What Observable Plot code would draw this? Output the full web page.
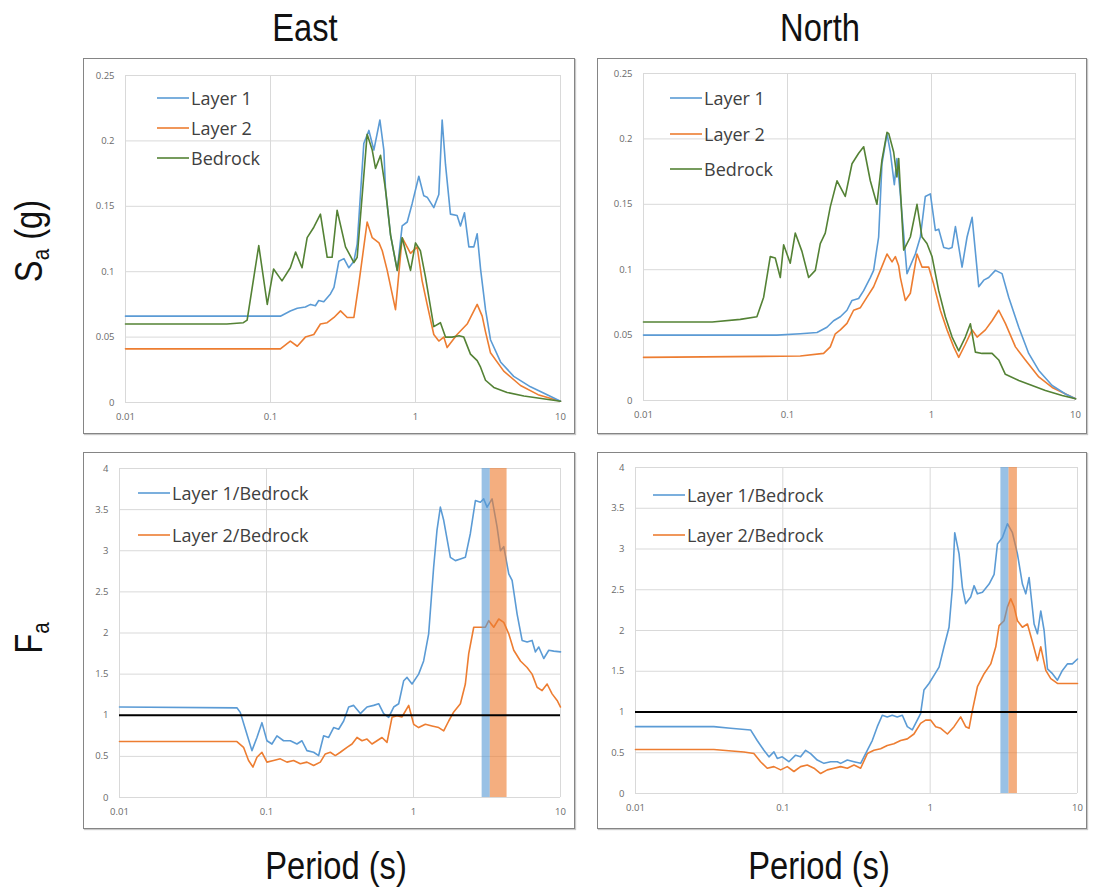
<!DOCTYPE html>
<html><head><meta charset="utf-8">
<script src="https://cdn.jsdelivr.net/npm/d3@7"></script>
<script src="https://cdn.jsdelivr.net/npm/@observablehq/plot@0.6"></script>
<style>
body{margin:0;background:#fff;width:1096px;height:888px;position:relative;overflow:hidden;font-family:"Open Sans",sans-serif}
.box{position:absolute;box-sizing:border-box;border:1.5px solid #858585;box-shadow:1px 1px 1px #c8c8c8;pointer-events:none}
.big{position:absolute;font-family:"Liberation Sans Narrow","Arial Narrow","Liberation Sans",sans-serif;font-size:38px;color:#111;white-space:nowrap;transform:translate(-50%,-50%) scaleX(0.86);line-height:1}
.big sub{font-size:24px;vertical-align:-7px}
.rot{transform:translate(-50%,-50%) rotate(-90deg) scaleX(0.86)}
.leg{position:absolute;display:flex;align-items:center;height:24px;font-family:"Open Sans",sans-serif;font-size:18px;color:#404040;white-space:nowrap}
.leg svg{display:block;margin-right:2px}
</style></head><body>
<script>
// ---- shared ticks ----
const periodTicks = [0.01, 0.1, 1, 10];
const saTicks = [0, 0.05, 0.1, 0.15, 0.2, 0.25];
const faTicks = [0, 0.5, 1, 1.5, 2, 2.5, 3, 3.5, 4];
const referenceLevel = [1];
const colLayer1 = "#5b9bd5", colLayer2 = "#ed7d31", colBedrock = "#548235";

// ---- East Sa (g): [period s, Sa] ----
const eastSaLayer1 = [[0.01,0.066],[0.117,0.066],[0.137,0.070],[0.153,0.072],[0.174,0.073],[0.189,0.075],[0.204,0.074],[0.215,0.078],[0.233,0.077],[0.259,0.083],[0.274,0.088],[0.296,0.108],[0.321,0.110],[0.347,0.103],[0.376,0.108],[0.396,0.121],[0.440,0.198],[0.477,0.208],[0.516,0.193],[0.568,0.216],[0.605,0.193],[0.621,0.163],[0.673,0.128],[0.748,0.101],[0.809,0.135],[0.877,0.138],[0.948,0.152],[1.054,0.173],[1.141,0.158],[1.203,0.157],[1.337,0.149],[1.448,0.159],[1.527,0.216],[1.610,0.182],[1.742,0.144],[1.936,0.143],[2.042,0.135],[2.177,0.145],[2.333,0.119],[2.525,0.119],[2.663,0.129],[2.81,0.102],[3.04,0.071],[3.29,0.048],[3.86,0.031],[4.76,0.020],[6.21,0.012],[8.09,0.006],[10,0.001]];
const eastSaLayer2 = [[0.01,0.041],[0.117,0.041],[0.120,0.042],[0.137,0.047],[0.153,0.043],[0.174,0.050],[0.199,0.052],[0.221,0.060],[0.246,0.061],[0.274,0.065],[0.304,0.070],[0.338,0.065],[0.376,0.065],[0.407,0.091],[0.464,0.138],[0.503,0.126],[0.56,0.122],[0.59,0.116],[0.638,0.101],[0.728,0.071],[0.809,0.126],[0.924,0.114],[1.026,0.119],[1.111,0.093],[1.203,0.075],[1.337,0.052],[1.448,0.047],[1.567,0.050],[1.652,0.042],[1.936,0.052],[2.271,0.060],[2.663,0.075],[2.884,0.066],[3.04,0.054],[3.29,0.038],[4.06,0.024],[5.3,0.013],[7.0,0.006],[10,0.001]];
const eastSaBedrock = [[0.01,0.060],[0.05,0.060],[0.065,0.061],[0.069,0.063],[0.083,0.120],[0.095,0.075],[0.105,0.102],[0.120,0.093],[0.137,0.103],[0.149,0.115],[0.165,0.103],[0.179,0.126],[0.199,0.134],[0.221,0.144],[0.246,0.111],[0.266,0.111],[0.288,0.147],[0.329,0.119],[0.376,0.107],[0.396,0.111],[0.464,0.205],[0.503,0.193],[0.530,0.179],[0.574,0.189],[0.621,0.163],[0.673,0.128],[0.748,0.101],[0.809,0.126],[0.924,0.101],[1.0,0.122],[1.081,0.116],[1.171,0.096],[1.337,0.058],[1.486,0.061],[1.61,0.050],[1.789,0.050],[2.0,0.051],[2.153,0.050],[2.394,0.037],[2.663,0.032],[2.81,0.027],[3.04,0.017],[3.467,0.0115],[4.285,0.0077],[5.59,0.005],[10,0.001]];

// ---- North Sa (g) ----
const northSaLayer1 = [[0.01,0.050],[0.0845,0.050],[0.1227,0.051],[0.1603,0.052],[0.1879,0.056],[0.2089,0.061],[0.2328,0.064],[0.2588,0.069],[0.2805,0.0765],[0.3119,0.078],[0.338,0.084],[0.3759,0.094],[0.3963,0.0995],[0.4295,0.125],[0.4529,0.181],[0.4909,0.204],[0.5176,0.190],[0.552,0.165],[0.5754,0.185],[0.608,0.157],[0.676,0.097],[0.772,0.112],[0.837,0.125],[0.906,0.156],[0.982,0.158],[1.064,0.130],[1.122,0.131],[1.216,0.117],[1.318,0.116],[1.39,0.117],[1.466,0.133],[1.63,0.102],[1.766,0.125],[1.914,0.140],[2.128,0.087],[2.306,0.092],[2.497,0.094],[2.777,0.0995],[3.09,0.097],[3.436,0.079],[4.036,0.056],[4.732,0.036],[5.559,0.023],[6.883,0.0115],[8.511,0.005],[10,0.0013]];
const northSaLayer2 = [[0.01,0.033],[0.1227,0.034],[0.1782,0.036],[0.1982,0.041],[0.2148,0.051],[0.2328,0.054],[0.2588,0.059],[0.2877,0.069],[0.3206,0.071],[0.3565,0.079],[0.3963,0.087],[0.4416,0.0995],[0.4909,0.112],[0.5321,0.106],[0.561,0.110],[0.5916,0.103],[0.608,0.094],[0.658,0.0765],[0.713,0.082],[0.793,0.112],[0.859,0.102],[0.956,0.102],[1.035,0.089],[1.152,0.069],[1.282,0.054],[1.426,0.041],[1.545,0.033],[1.718,0.043],[1.914,0.054],[2.073,0.0485],[2.368,0.054],[2.634,0.061],[2.93,0.069],[3.258,0.059],[3.828,0.041],[4.487,0.031],[5.559,0.018],[6.883,0.010],[10,0.0013]];
const northSaBedrock = [[0.01,0.060],[0.03,0.060],[0.047,0.062],[0.0613,0.064],[0.0683,0.079],[0.0759,0.110],[0.0822,0.109],[0.0891,0.094],[0.094,0.119],[0.1045,0.105],[0.1132,0.128],[0.126,0.114],[0.1402,0.094],[0.156,0.0995],[0.1689,0.120],[0.1829,0.128],[0.1982,0.148],[0.2208,0.168],[0.2518,0.156],[0.2805,0.181],[0.3119,0.189],[0.338,0.194],[0.3759,0.168],[0.4178,0.150],[0.4529,0.184],[0.4909,0.205],[0.505,0.204],[0.546,0.190],[0.575,0.171],[0.592,0.185],[0.641,0.115],[0.713,0.125],[0.793,0.150],[0.859,0.125],[0.930,0.120],[1.009,0.110],[1.122,0.084],[1.248,0.064],[1.39,0.0485],[1.545,0.038],[1.718,0.0485],[1.862,0.0587],[2.017,0.037],[2.246,0.036],[2.634,0.036],[2.93,0.031],[3.258,0.020],[4.036,0.0153],[4.996,0.0115],[6.18,0.0077],[8.072,0.0038],[10,0.0013]];

// ---- East Fa ----
const eastFaLayer1 = [[0.01,1.10],[0.0629,1.09],[0.0663,1.035],[0.0736,0.77],[0.0796,0.57],[0.0861,0.73],[0.0931,0.91],[0.1007,0.69],[0.1089,0.65],[0.1178,0.75],[0.1307,0.69],[0.1452,0.69],[0.1611,0.65],[0.1742,0.69],[0.1884,0.57],[0.2092,0.55],[0.2263,0.51],[0.2447,0.75],[0.2647,0.73],[0.2862,0.85],[0.3096,0.83],[0.3349,0.93],[0.3622,1.10],[0.3918,1.12],[0.435,1.02],[0.4826,1.10],[0.5358,1.12],[0.5795,1.14],[0.6268,1.02],[0.6779,0.975],[0.7332,1.10],[0.793,1.14],[0.8577,1.42],[0.9036,1.46],[0.9773,1.38],[1.084,1.50],[1.172,1.66],[1.268,1.99],[1.371,2.80],[1.445,3.25],[1.523,3.53],[1.605,3.37],[1.782,2.92],[1.928,2.88],[2.084,2.90],[2.253,2.92],[2.437,3.21],[2.637,3.61],[2.851,3.59],[3.004,3.63],[3.166,3.53],[3.424,3.63],[3.703,3.29],[3.902,3.00],[4.112,3.05],[4.446,2.72],[4.686,2.64],[5.068,2.23],[5.482,1.91],[5.927,1.89],[6.408,1.91],[6.753,1.77],[7.113,1.83],[7.694,1.69],[8.322,1.79],[9.001,1.78],[10,1.77]];
const eastFaLayer2 = [[0.01,0.68],[0.0629,0.68],[0.0698,0.61],[0.0755,0.45],[0.0809,0.37],[0.0861,0.49],[0.0931,0.55],[0.1007,0.43],[0.1117,0.45],[0.1241,0.47],[0.1377,0.43],[0.1529,0.45],[0.1698,0.41],[0.1884,0.43],[0.2092,0.39],[0.2323,0.43],[0.2512,0.53],[0.2717,0.55],[0.2938,0.51],[0.3178,0.55],[0.3529,0.61],[0.3817,0.65],[0.4128,0.73],[0.4466,0.69],[0.4826,0.71],[0.522,0.65],[0.5645,0.69],[0.6106,0.73],[0.6604,0.67],[0.7142,0.975],[0.7725,0.995],[0.8355,0.98],[0.8577,1.015],[0.9276,1.12],[1.003,0.89],[1.084,0.85],[1.204,0.89],[1.336,0.87],[1.484,0.85],[1.605,0.81],[1.736,0.93],[1.878,1.04],[2.084,1.14],[2.253,1.38],[2.375,1.75],[2.569,2.07],[2.851,2.07],[3.083,2.07],[3.249,2.15],[3.514,2.07],[3.801,2.17],[4.112,2.13],[4.446,1.99],[4.809,1.79],[5.34,1.66],[5.927,1.58],[6.408,1.50],[6.931,1.34],[7.496,1.30],[8.108,1.38],[8.77,1.26],[9.485,1.18],[10,1.10]];

// ---- North Fa ----
const northFaLayer1 = [[0.01,0.82],[0.034,0.82],[0.0442,0.80],[0.0604,0.78],[0.067,0.65],[0.0744,0.53],[0.0805,0.45],[0.087,0.51],[0.0917,0.43],[0.0991,0.45],[0.1099,0.39],[0.1221,0.47],[0.132,0.45],[0.1428,0.53],[0.1544,0.49],[0.1713,0.41],[0.1902,0.37],[0.2111,0.39],[0.2343,0.39],[0.2468,0.37],[0.274,0.41],[0.3041,0.39],[0.3375,0.37],[0.3647,0.49],[0.4046,0.65],[0.4377,0.82],[0.4731,0.96],[0.5114,0.94],[0.5528,0.96],[0.598,0.94],[0.6473,0.96],[0.6997,0.82],[0.7562,0.78],[0.861,0.98],[0.9076,1.27],[0.9818,1.35],[1.062,1.45],[1.149,1.55],[1.242,1.80],[1.343,2.04],[1.416,2.53],[1.468,3.20],[1.571,2.94],[1.655,2.53],[1.742,2.33],[1.884,2.41],[1.986,2.55],[2.093,2.45],[2.265,2.47],[2.512,2.57],[2.717,2.69],[2.861,3.06],[3.094,3.14],[3.345,3.31],[3.616,3.20],[3.911,2.94],[4.228,2.57],[4.455,2.45],[4.694,2.65],[5.075,2.08],[5.347,1.96],[5.634,2.24],[5.935,2.00],[6.252,1.53],[6.761,1.47],[7.307,1.39],[7.898,1.51],[8.536,1.59],[9.226,1.59],[10,1.65]];
const northFaLayer2 = [[0.01,0.54],[0.034,0.54],[0.0544,0.51],[0.0636,0.49],[0.0706,0.39],[0.0784,0.31],[0.087,0.33],[0.0966,0.29],[0.1072,0.33],[0.1189,0.27],[0.132,0.33],[0.1465,0.35],[0.1627,0.31],[0.1805,0.245],[0.2004,0.29],[0.2224,0.31],[0.2468,0.33],[0.274,0.31],[0.3041,0.35],[0.3375,0.31],[0.3743,0.49],[0.4153,0.53],[0.461,0.55],[0.5114,0.59],[0.5673,0.61],[0.6303,0.65],[0.6997,0.67],[0.7761,0.73],[0.861,0.86],[0.9315,0.90],[1.0091,0.90],[1.09,0.82],[1.18,0.80],[1.309,0.73],[1.452,0.82],[1.611,0.94],[1.742,0.82],[1.836,0.80],[1.935,1.02],[2.093,1.31],[2.324,1.47],[2.578,1.59],[2.788,1.80],[2.937,2.06],[3.175,2.12],[3.345,2.29],[3.524,2.39],[3.712,2.29],[3.911,2.12],[4.228,2.04],[4.573,2.08],[4.945,1.86],[5.347,1.63],[5.634,1.80],[6.091,1.51],[6.588,1.41],[7.307,1.35],[8.536,1.35],[10,1.35]];

// ---- resonance bands (period ranges) ----
const eastBandLayer1 = [2.93, 3.33];
const eastBandLayer2 = [3.33, 4.33];
const northBandLayer1 = [3.02, 3.43];
const northBandLayer2 = [3.43, 3.91];

function makePanel(cfg) {
  const marks = [
    Plot.gridX(periodTicks, {stroke: "#d9d9d9", strokeOpacity: 1, strokeWidth: 1}),
    Plot.gridY(cfg.yTicks, {stroke: "#d9d9d9", strokeOpacity: 1, strokeWidth: 1}),
    Plot.axisX(periodTicks, {tickSize: 0, tickPadding: 11, tickFormat: d => String(d), label: null}),
    Plot.axisY(cfg.yTicks, {tickSize: 0, tickPadding: 11, tickFormat: d => String(d), label: null}),
  ];
  for (const s of cfg.series) {
    marks.push(Plot.line(s.data, {x: d => d[0], y: d => d[1], stroke: s.color, strokeWidth: 1.6}));
  }
  if (cfg.bands) {
    marks.push(Plot.rect(cfg.bands, {x1: d => d.range[0], x2: d => d.range[1], fill: d => d.color, fillOpacity: 0.62}));
  }
  if (cfg.ref) marks.push(Plot.ruleY(referenceLevel, {stroke: "#000", strokeWidth: 2}));
  const svg = Plot.plot({
    width: cfg.w, height: cfg.h,
    marginLeft: cfg.mL, marginRight: cfg.mR, marginTop: cfg.mT, marginBottom: cfg.mB,
    x: {type: "log", domain: [0.01, 10]},
    y: {domain: cfg.yDomain},
    style: {fontFamily: "'Open Sans', sans-serif", fontSize: "9.5px", color: "#6a6a6a", background: "white", overflow: "visible"},
    marks
  });
  svg.style.position = "absolute";
  svg.style.left = cfg.left + "px";
  svg.style.top = cfg.top + "px";
  document.body.appendChild(svg);
  const box = document.createElement("div");
  box.className = "box";
  Object.assign(box.style, {left: cfg.left + "px", top: cfg.top + "px", width: cfg.w + "px", height: cfg.h + "px"});
  document.body.appendChild(box);
  // legend
  cfg.legend.forEach((it, i) => {
    const d = document.createElement("div");
    d.className = "leg";
    d.style.left = cfg.legX + "px";
    d.style.top = (cfg.legY[i] - 12) + "px";
    d.innerHTML = `<svg width="32" height="4"><line x1="0" x2="32" y1="2" y2="2" stroke="${it.color}" stroke-width="1.6"/></svg>${it.label}`;
    document.body.appendChild(d);
  });
}

makePanel({left: 83, top: 58, w: 492, h: 376, mL: 42, mR: 15, mT: 17, mB: 32,
  yTicks: saTicks, yDomain: [0, 0.25],
  series: [{data: eastSaLayer2, color: colLayer2}, {data: eastSaLayer1, color: colLayer1}, {data: eastSaBedrock, color: colBedrock}],
  legX: 157, legY: [98, 128, 158],
  legend: [{label: "Layer 1", color: colLayer1}, {label: "Layer 2", color: colLayer2}, {label: "Bedrock", color: colBedrock}]});

makePanel({left: 597, top: 58, w: 490, h: 376, mL: 46, mR: 12, mT: 15, mB: 34,
  yTicks: saTicks, yDomain: [0, 0.25],
  series: [{data: northSaLayer2, color: colLayer2}, {data: northSaLayer1, color: colLayer1}, {data: northSaBedrock, color: colBedrock}],
  legX: 670, legY: [98, 134, 169],
  legend: [{label: "Layer 1", color: colLayer1}, {label: "Layer 2", color: colLayer2}, {label: "Bedrock", color: colBedrock}]});

makePanel({left: 83, top: 452, w: 492, h: 377, mL: 36, mR: 15, mT: 16, mB: 32,
  yTicks: faTicks, yDomain: [0, 4], ref: true,
  series: [{data: eastFaLayer2, color: colLayer2}, {data: eastFaLayer1, color: colLayer1}],
  bands: [{range: eastBandLayer1, color: colLayer1}, {range: eastBandLayer2, color: colLayer2}],
  legX: 138, legY: [493, 535],
  legend: [{label: "Layer 1/Bedrock", color: colLayer1}, {label: "Layer 2/Bedrock", color: colLayer2}]});

makePanel({left: 597, top: 452, w: 490, h: 377, mL: 38, mR: 10, mT: 15, mB: 36,
  yTicks: faTicks, yDomain: [0, 4], ref: true,
  series: [{data: northFaLayer2, color: colLayer2}, {data: northFaLayer1, color: colLayer1}],
  bands: [{range: northBandLayer1, color: colLayer1}, {range: northBandLayer2, color: colLayer2}],
  legX: 653, legY: [495, 535],
  legend: [{label: "Layer 1/Bedrock", color: colLayer1}, {label: "Layer 2/Bedrock", color: colLayer2}]});

// outer texts
const texts = [
  {html: "East", x: 305, y: 28},
  {html: "North", x: 820, y: 28},
  {html: "Period (s)", x: 336, y: 866},
  {html: "Period (s)", x: 819, y: 866},
  {html: "S<sub>a</sub> (g)", x: 31, y: 241, rot: true},
  {html: "F<sub>a</sub>", x: 31, y: 638, rot: true},
];
for (const t of texts) {
  const d = document.createElement("div");
  d.className = "big" + (t.rot ? " rot" : "");
  d.style.left = t.x + "px"; d.style.top = t.y + "px";
  d.innerHTML = t.html;
  document.body.appendChild(d);
}
</script>
</body></html>
